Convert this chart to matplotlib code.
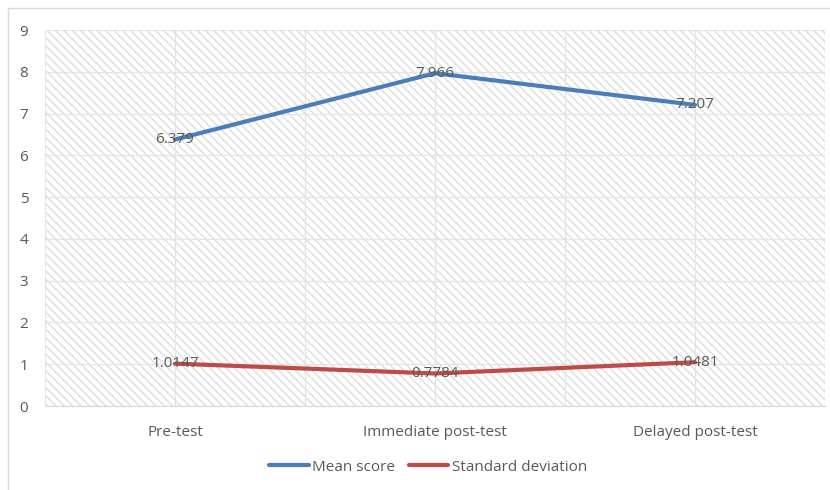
import matplotlib.pyplot as plt
from matplotlib.patches import Rectangle

categories = ["Pre-test", "Immediate post-test", "Delayed post-test"]
mean_score = [6.379, 7.966, 7.207]
std_dev = [1.0147, 0.7784, 1.0481]
mean_labels = ["6.379", "7.966", "7.207"]
std_labels = ["1.0147", "0.7784", "1.0481"]

plt.rcParams["font.family"] = ["Open Sans", "DejaVu Sans"]
plt.rcParams["hatch.linewidth"] = 1.0
plt.rcParams["hatch.color"] = "#dedede"

text_color = "#595959"
grid_color = "#e4e4e4"

fig = plt.figure(figsize=(8.3, 4.9), dpi=100)
ax = fig.add_axes([45 / 830, 84 / 490, 780 / 830, 376 / 490])

# hatched plot background
ax.add_patch(Rectangle((0, 0), 1, 1, transform=ax.transAxes, facecolor="white",
                       edgecolor="#dedede", hatch="\\" * 4, linewidth=0, zorder=0))

x = list(range(len(categories)))
ax.set_xlim(-0.5, len(categories) - 0.5)
ax.set_ylim(0, 9)

for y in range(0, 10):
    ax.axhline(y, color=grid_color, lw=1, zorder=1)
for v in [-0.5, 0, 0.5, 1, 1.5, 2, 2.5]:
    ax.axvline(v, color=grid_color, lw=1, zorder=1)

ax.plot(x, mean_score, color="#4a7ebb", lw=3, zorder=3, label="Mean score",
        solid_capstyle="round")
ax.plot(x, std_dev, color="#be4b48", lw=3, zorder=3, label="Standard deviation",
        solid_capstyle="round")

for xi, yi, s in zip(x, mean_score, mean_labels):
    ax.text(xi, yi, s, ha="center", va="center", fontsize=11, color=text_color, zorder=4)
for xi, yi, s in zip(x, std_dev, std_labels):
    ax.text(xi, yi, s, ha="center", va="center", fontsize=11, color=text_color, zorder=4)

ax.set_xticks(x)
ax.set_xticklabels(categories)
ax.set_yticks(range(0, 10))
ax.tick_params(axis="both", length=0, labelsize=11, labelcolor=text_color)
ax.tick_params(axis="x", pad=14)
ax.tick_params(axis="y", pad=12)
for s in ax.spines.values():
    s.set_visible(False)
ax.spines["bottom"].set_visible(True)
ax.spines["bottom"].set_color("#d9d9d9")

fig.legend(loc="center", bbox_to_anchor=(428 / 830, 1 - 467 / 490), ncol=2, frameon=False,
           fontsize=11, labelcolor=text_color, handlelength=2.6, columnspacing=0.9,
           handletextpad=0.2)

fig.add_artist(Rectangle((8 / 830, -0.01), 1, 1 - 8 / 490 + 0.01, transform=fig.transFigure,
                         fill=False, edgecolor="#d9d9d9", lw=1))

fig.savefig("out.png", dpi=100)
